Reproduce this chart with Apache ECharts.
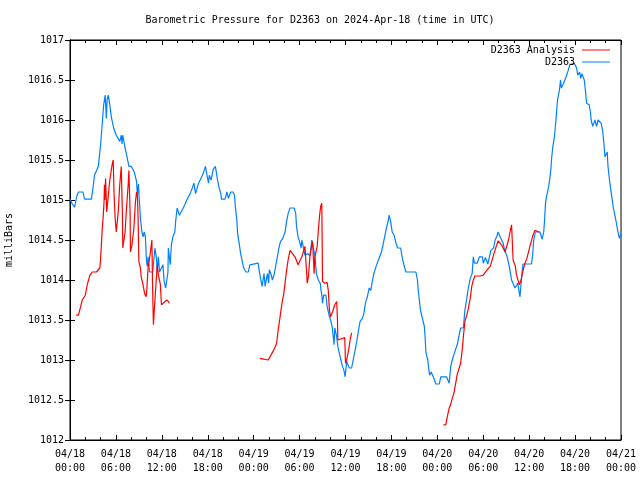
<!DOCTYPE html>
<html><head><meta charset="utf-8">
<script src="https://cdn.jsdelivr.net/npm/echarts@6/dist/echarts.min.js"></script>
<style>html,body{margin:0;padding:0;background:#fff}#c{width:640px;height:480px}</style>
</head><body><div id="c"></div>
<script>
const titleText = 'Barometric Pressure for D2363 on 2024-Apr-18 (time in UTC)';
const seriesNames = ['D2363 Analysis', 'D2363'];
const xTickLabels = ['04/18\n00:00','04/18\n06:00','04/18\n12:00','04/18\n18:00','04/19\n00:00','04/19\n06:00','04/19\n12:00','04/19\n18:00','04/20\n00:00','04/20\n06:00','04/20\n12:00','04/20\n18:00','04/21\n00:00'];
// hours since 2024-04-18 00:00 UTC, pressure in mb
const analysisData = [
[0.8,1013.56],[1.1,1013.56],[1.4,1013.67],[1.6,1013.75],[2.0,1013.81],[2.25,1013.94],[2.6,1014.06],[2.9,1014.10],[3.45,1014.10],[3.9,1014.15],[4.0,1014.27],[4.1,1014.44],[4.2,1014.62],[4.35,1014.81],[4.45,1014.98],[4.5,1015.19],[4.55,1015.0],[4.65,1015.27],[4.8,1014.85],[5.0,1014.85],[5.2,1015.25],[5.5,1015.44],[5.65,1015.5],[5.75,1015.1],[5.9,1014.77],[6.05,1014.60],[6.3,1014.85],[6.5,1015.19],[6.7,1015.42],[6.85,1014.81],[6.9,1014.40],[7.2,1014.6],[7.35,1014.85],[7.6,1015.19],[7.7,1015.37],[7.85,1014.85],[7.9,1014.35],[8.1,1014.44],[8.35,1014.65],[8.55,1014.98],[8.7,1015.10],[8.8,1015.06],[8.9,1014.77],[9.0,1014.23],[9.2,1014.15],[9.3,1014.04],[9.55,1013.94],[9.75,1013.83],[9.95,1013.79],[10.05,1013.9],[10.2,1014.15],[10.4,1014.27],[10.7,1014.5],[10.8,1013.87],[10.9,1013.44],[11.0,1013.6],[11.2,1013.90],[11.4,1014.19],[11.55,1014.06],[11.8,1013.95],[11.95,1013.69],[12.4,1013.73],[12.7,1013.75],[13.0,1013.71],
[13.5,null],
[24.8,1013.02],[25.9,1013.0],[26.6,1013.12],[27.0,1013.21],[27.2,1013.37],[27.45,1013.54],[27.7,1013.71],[27.9,1013.81],[28.1,1013.96],[28.3,1014.12],[28.5,1014.25],[28.75,1014.37],[28.9,1014.37],[29.4,1014.29],[29.8,1014.19],[30.3,1014.29],[30.7,1014.42],[30.9,1014.12],[31.0,1013.96],[31.15,1014.04],[31.35,1014.29],[31.6,1014.44],[31.7,1014.48],[31.9,1014.08],[32.0,1014.29],[32.3,1014.42],[32.45,1014.62],[32.6,1014.79],[32.75,1014.92],[32.9,1014.96],[33.0,1013.98],[33.3,1013.96],[33.6,1013.97],[33.75,1013.87],[33.9,1013.62],[34.05,1013.54],[34.3,1013.6],[34.6,1013.69],[34.85,1013.73],[34.95,1013.5],[35.0,1013.25],[35.3,1013.26],[35.9,1013.28],[36.0,1012.96],[36.15,1013.0],[36.4,1013.12],[36.6,1013.25],[36.8,1013.34],
[42.0,null],
[48.8,1012.19],[49.1,1012.19],[49.3,1012.29],[49.55,1012.40],[49.7,1012.43],[49.95,1012.52],[50.2,1012.60],[50.4,1012.71],[50.6,1012.82],[50.8,1012.83],[51.05,1012.96],[51.3,1013.17],[51.4,1013.29],[51.6,1013.48],[51.85,1013.56],[52.0,1013.62],[52.3,1013.77],[52.5,1013.92],[52.7,1014.0],[52.9,1014.05],[53.6,1014.05],[54.0,1014.06],[54.45,1014.12],[54.9,1014.17],[55.1,1014.23],[55.4,1014.33],[55.7,1014.42],[55.95,1014.49],[56.4,1014.44],[56.85,1014.35],[57.1,1014.37],[57.3,1014.5],[57.5,1014.60],[57.7,1014.69],[57.8,1014.71],[57.9,1014.25],[58.2,1014.17],[58.35,1014.06],[58.6,1013.98],[58.7,1013.94],[58.95,1014.0],[59.15,1014.10],[59.45,1014.21],[59.7,1014.27],[60.1,1014.42],[60.5,1014.56],[60.75,1014.62],[61.3,1014.60]
];
const stationData = [
[0,1015.01],[0.3,1014.95],[0.6,1014.91],[0.9,1015.05],[1.1,1015.10],[1.7,1015.10],[1.9,1015.01],[2.8,1015.01],[3.0,1015.15],[3.2,1015.31],[3.7,1015.42],[4.0,1015.69],[4.2,1015.94],[4.4,1016.19],[4.6,1016.31],[4.75,1016.02],[4.85,1016.25],[5.0,1016.31],[5.2,1016.19],[5.4,1016.04],[5.7,1015.90],[6.05,1015.81],[6.3,1015.77],[6.5,1015.73],[6.7,1015.81],[6.8,1015.70],[6.9,1015.81],[7.2,1015.65],[7.45,1015.54],[7.7,1015.42],[8.0,1015.42],[8.4,1015.35],[8.7,1015.23],[8.8,1015.06],[8.95,1015.2],[9.05,1015.0],[9.1,1014.94],[9.2,1014.77],[9.4,1014.60],[9.55,1014.54],[9.7,1014.60],[9.85,1014.54],[10.0,1014.23],[10.1,1014.17],[10.2,1014.29],[10.4,1014.10],[10.8,1014.10],[11.1,1014.40],[11.3,1014.27],[11.4,1014.10],[11.55,1014.29],[11.7,1014.10],[12.15,1014.19],[12.3,1013.98],[12.5,1013.90],[12.7,1013.90],[12.8,1014.10],[12.85,1014.40],[13.1,1014.19],[13.25,1014.44],[13.45,1014.54],[13.7,1014.60],[13.8,1014.73],[14.0,1014.90],[14.3,1014.81],[14.8,1014.90],[15.0,1014.94],[15.25,1015.0],[15.7,1015.08],[15.9,1015.13],[16.2,1015.21],[16.4,1015.08],[16.8,1015.21],[17.1,1015.27],[17.4,1015.33],[17.7,1015.42],[17.9,1015.31],[18.1,1015.21],[18.2,1015.31],[18.45,1015.25],[18.7,1015.38],[19.0,1015.42],[19.25,1015.27],[19.45,1015.17],[19.7,1015.08],[19.8,1015.01],[20.25,1015.01],[20.5,1015.10],[20.7,1015.02],[21.0,1015.10],[21.3,1015.10],[21.5,1015.06],[21.6,1014.92],[21.8,1014.75],[21.9,1014.58],[22.1,1014.46],[22.3,1014.33],[22.55,1014.21],[22.7,1014.15],[23.0,1014.10],[23.3,1014.10],[23.5,1014.19],[23.7,1014.21],[24.6,1014.21],[24.7,1014.13],[24.9,1014.02],[25.1,1013.92],[25.35,1014.08],[25.5,1013.92],[25.8,1014.08],[25.95,1013.96],[26.05,1014.13],[26.3,1014.06],[26.45,1014.0],[26.7,1014.08],[26.9,1014.19],[27.1,1014.29],[27.3,1014.40],[27.5,1014.48],[27.8,1014.52],[28.1,1014.60],[28.3,1014.73],[28.5,1014.83],[28.75,1014.90],[29.3,1014.90],[29.5,1014.83],[29.6,1014.67],[29.8,1014.54],[30.05,1014.46],[30.2,1014.40],[30.3,1014.50],[30.5,1014.50],[30.7,1014.31],[31.1,1014.33],[31.35,1014.30],[31.6,1014.5],[31.8,1014.5],[32.0,1014.31],[32.2,1014.08],[32.45,1014.0],[32.7,1013.96],[32.8,1013.87],[32.9,1013.81],[33.0,1013.71],[33.15,1013.81],[33.45,1013.81],[33.6,1013.67],[33.85,1013.56],[34.05,1013.5],[34.25,1013.42],[34.4,1013.29],[34.5,1013.19],[34.6,1013.4],[34.85,1013.29],[35.0,1013.17],[35.2,1013.08],[35.4,1013.0],[35.6,1012.92],[35.8,1012.87],[35.95,1012.79],[36.15,1012.98],[36.5,1012.90],[36.8,1012.90],[37.0,1013.0],[37.25,1013.12],[37.5,1013.25],[37.7,1013.37],[37.9,1013.48],[38.2,1013.52],[38.4,1013.58],[38.6,1013.71],[38.85,1013.79],[39.1,1013.90],[39.3,1013.87],[39.5,1013.98],[39.7,1014.08],[40.0,1014.17],[40.3,1014.25],[40.7,1014.35],[40.95,1014.46],[41.2,1014.58],[41.4,1014.67],[41.6,1014.75],[41.7,1014.81],[41.9,1014.73],[42.1,1014.60],[42.35,1014.56],[42.6,1014.46],[42.8,1014.40],[43.2,1014.40],[43.4,1014.29],[43.6,1014.2],[43.9,1014.10],[45.2,1014.10],[45.4,1014.0],[45.5,1013.87],[45.65,1013.75],[45.8,1013.62],[46.1,1013.5],[46.3,1013.42],[46.4,1013.29],[46.5,1013.10],[46.75,1013.0],[46.9,1012.87],[47.0,1012.81],[47.2,1012.85],[47.55,1012.77],[47.8,1012.70],[48.25,1012.70],[48.45,1012.79],[49.2,1012.79],[49.55,1012.71],[49.75,1012.92],[49.95,1013.0],[50.2,1013.08],[50.4,1013.1],[50.6,1013.19],[50.8,1013.29],[51.05,1013.40],[51.4,1013.40],[51.6,1013.62],[51.85,1013.77],[52.05,1013.90],[52.3,1014.02],[52.55,1014.08],[52.7,1014.29],[52.85,1014.21],[53.2,1014.21],[53.5,1014.29],[53.9,1014.29],[54.0,1014.21],[54.3,1014.28],[54.6,1014.2],[54.8,1014.2],[55.0,1014.37],[55.35,1014.40],[55.55,1014.5],[55.75,1014.54],[55.95,1014.60],[56.2,1014.54],[56.6,1014.46],[56.8,1014.37],[57.1,1014.3],[57.4,1014.17],[57.6,1014.06],[57.7,1014.0],[58.15,1013.90],[58.35,1013.90],[58.5,1013.96],[58.8,1013.79],[59.0,1014.02],[59.15,1014.17],[59.2,1014.20],[60.3,1014.20],[60.45,1014.31],[60.6,1014.5],[60.8,1014.60],[61.4,1014.60],[61.7,1014.51],[61.9,1014.60],[62.0,1014.73],[62.15,1014.98],[62.4,1015.10],[62.55,1015.17],[62.7,1015.27],[62.85,1015.40],[62.95,1015.54],[63.1,1015.67],[63.3,1015.79],[63.5,1016.0],[63.7,1016.25],[63.95,1016.37],[64.1,1016.5],[64.2,1016.4],[64.5,1016.46],[64.7,1016.46],[64.9,1016.56],[65.1,1016.62],[65.3,1016.69],[65.55,1016.71],[65.9,1016.71],[66.2,1016.65],[66.35,1016.56],[66.6,1016.6],[66.75,1016.52],[66.9,1016.58],[67.2,1016.5],[67.35,1016.37],[67.5,1016.21],[67.85,1016.19],[68.0,1016.10],[68.1,1016.0],[68.3,1015.92],[68.6,1016.0],[68.8,1015.92],[69.0,1016.0],[69.4,1015.96],[69.6,1015.87],[69.8,1015.67],[69.9,1015.54],[70.2,1015.6],[70.3,1015.42],[70.45,1015.29],[70.6,1015.17],[70.8,1015.04],[71.0,1014.90],[71.2,1014.81],[71.4,1014.71],[71.6,1014.60],[71.8,1014.52],[72.0,1014.58]
];

const FONT = 'DejaVu Sans Mono';
const chart = echarts.init(document.getElementById('c'), null, {renderer: 'canvas'});
const xCommon = {
  type: 'value', min: 0, max: 72, interval: 6,
  axisLine: {show: true, lineStyle: {color: '#000', width: 1}},
  axisTick: {show: true, inside: true, length: 5, lineStyle: {color: '#000'}},
  minorTick: {show: true, splitNumber: 3, length: 3, lineStyle: {color: '#000'}},
  splitLine: {show: false}
};
const yCommon = {
  type: 'value', min: 1012, max: 1017, interval: 0.5,
  axisLine: {show: true, lineStyle: {color: '#000', width: 1}},
  axisTick: {show: true, inside: true, length: 5, lineStyle: {color: '#000'}},
  splitLine: {show: false}
};
chart.setOption({
  animation: false,
  backgroundColor: '#fff',
  title: {
    text: titleText, left: 'center', top: 10,
    textStyle: {fontFamily: FONT, fontSize: 10, fontWeight: 'normal', color: '#000'}
  },
  legend: {
    data: seriesNames, orient: 'vertical', align: 'right',
    right: 25, top: 40, itemWidth: 28, itemHeight: 1, itemGap: 2,
    icon: 'rect',
    textStyle: {fontFamily: FONT, fontSize: 10, color: '#000', padding: [0,2,0,0]}
  },
  grid: {left: 70, right: 19, top: 40, bottom: 40, show: true, borderColor: '#000', borderWidth: 1,
    containLabel: false, outerBoundsMode: 'none'},
  xAxis: [
    Object.assign({}, xCommon, {
      position: 'bottom',
      axisLabel: {show: true, margin: 7, fontFamily: FONT, fontSize: 10, color: '#000', lineHeight: 14,
        formatter: v => xTickLabels[Math.round(v / 6)]}
    }),
    Object.assign({}, xCommon, {position: 'top', axisLabel: {show: false}})
  ],
  yAxis: [
    Object.assign({}, yCommon, {
      position: 'left',
      name: 'milliBars', nameLocation: 'middle', nameRotate: 90, nameGap: 56,
      nameTextStyle: {fontFamily: FONT, fontSize: 10, color: '#000'},
      axisLabel: {show: true, margin: 6, fontFamily: FONT, fontSize: 10, color: '#000',
        formatter: v => String(v)}
    }),
    Object.assign({}, yCommon, {position: 'right', axisLabel: {show: false}})
  ],
  series: [
    {name: seriesNames[0], type: 'line', data: analysisData, showSymbol: false, connectNulls: false,
      xAxisIndex: 0, yAxisIndex: 0,
      lineStyle: {color: '#ff0000', width: 1.2}, itemStyle: {color: '#ff0000'}, z: 3},
    {name: seriesNames[1], type: 'line', data: stationData, showSymbol: false,
      xAxisIndex: 0, yAxisIndex: 0,
      lineStyle: {color: '#0080ff', width: 1.2}, itemStyle: {color: '#0080ff'}, z: 2}
  ]
});
</script></body></html>
